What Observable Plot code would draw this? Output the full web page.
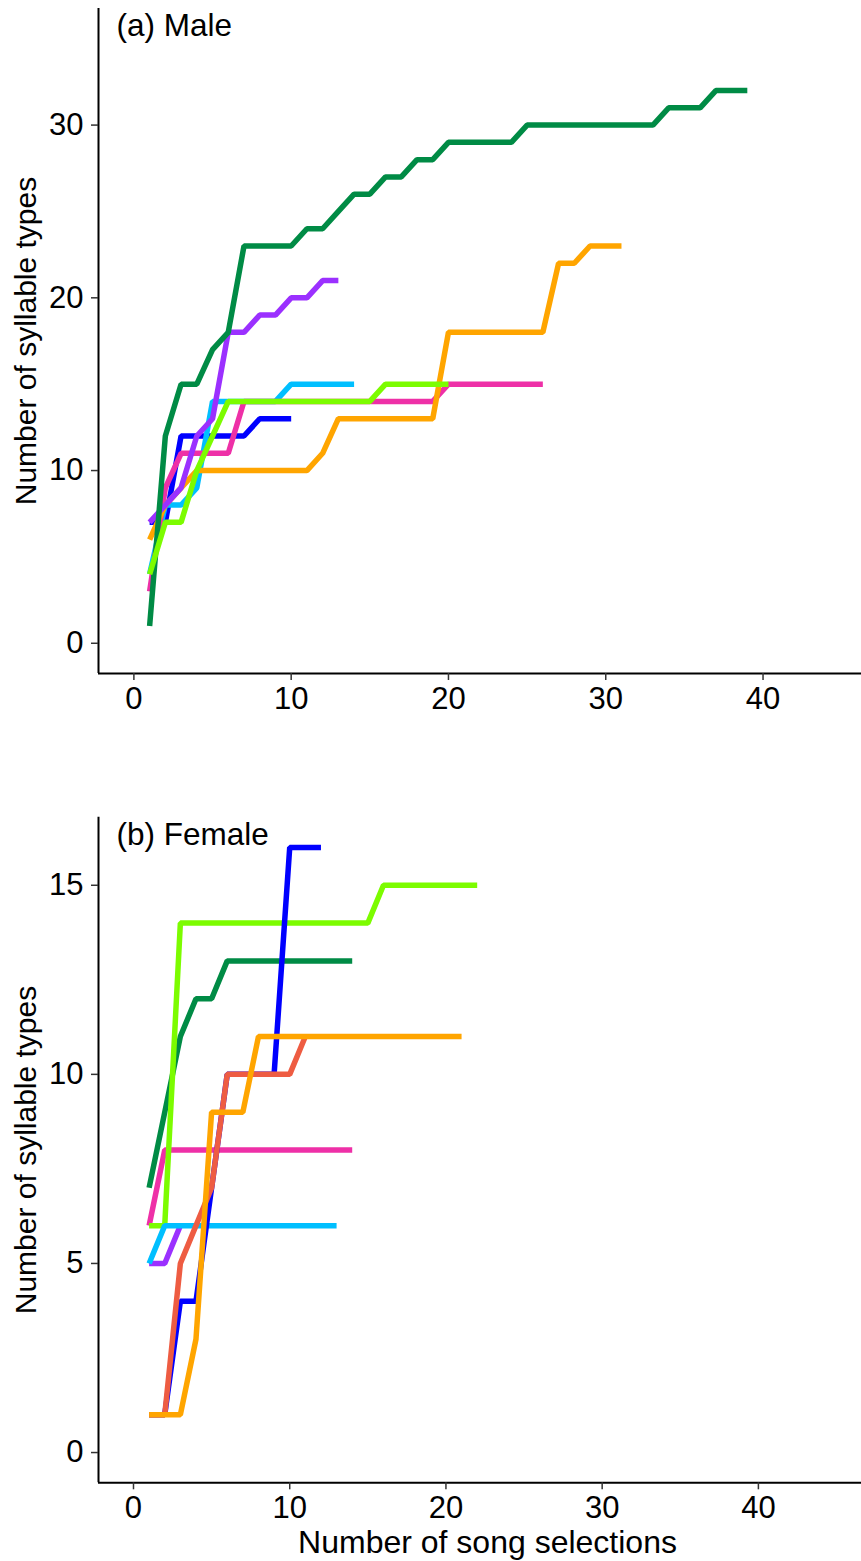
<!DOCTYPE html>
<html><head><meta charset="utf-8">
<script src="https://cdn.jsdelivr.net/npm/d3@7"></script>
<script src="https://cdn.jsdelivr.net/npm/@observablehq/plot@0.6"></script>
<style>
html,body{margin:0;padding:0;background:#fff;}
#chart svg{display:block;}
</style>
</head><body><div id="chart"></div>
<script>
// ---- Data: cumulative number of syllable types by song selection (x = 1..n) ----
// (a) Male
const maleBlue   = [7,7,12,12,12,12,12,13,13,13];
const maleCyan   = [4,8,8,9,14,14,14,14,14,15,15,15,15,15];
const malePink   = [3,9,11,11,11,11,14,14,14,14,14,14,14,14,14,14,14,14,14,15,15,15,15,15,15,15];
const maleOrange = [6,8,9,10,10,10,10,10,10,10,10,11,13,13,13,13,13,13,13,18,18,18,18,18,18,18,22,22,23,23,23];
const malePurple = [7,8,9,12,13,18,18,19,19,20,20,21,21];
const maleGreen  = [1,12,15,15,17,18,23,23,23,23,24,24,25,26,26,27,27,28,28,29,29,29,29,29,30,30,30,30,30,30,30,30,30,31,31,31,32,32,32];
const maleLime   = [4,7,7,10,12,14,14,14,14,14,14,14,14,14,14,15,15,15,15,15];
// (b) Female
const femPurple = [5,5,6];
const femPink   = [6,8,8,8,8,8,8,8,8,8,8,8,8,8];
const femGreen  = [7,9,11,12,12,13,13,13,13,13,13,13,13,13];
const femLime   = [6,6,14,14,14,14,14,14,14,14,14,14,14,14,14,15,15,15,15,15,15,15];
const femCyan   = [5,6,6,6,6,6,6,6,6,6,6,6,6];
const femBlue   = [1,1,4,4,7,10,10,10,10,16,16,16];
const femRed    = [1,1,5,6,7,10,10,10,10,10,11];
const femOrange = [1,1,1,3,9,9,9,11,11,11,11,11,11,11,11,11,11,11,11,11,11];

// tick labels
const maleYTicks = [0,10,20,30];
const femYTicks  = [0,5,10,15];
const xTicks     = [0,10,20,30,40];

// texts
const maleLabel = "(a) Male";
const femLabel  = "(b) Female";
const yTitle = "Number of syllable types";
const xTitle = "Number of song selections";

// colours
const colors = {
  blue: "#0000FF", cyan: "#00BFFF", pink: "#EE30A7", orange: "#FFA500",
  purple: "#9B30FF", green: "#008B45", lime: "#7CFC00", red: "#EE5C42"
};

const maleSeries = [
  ["blue", maleBlue], ["cyan", maleCyan], ["pink", malePink], ["orange", maleOrange],
  ["purple", malePurple], ["green", maleGreen], ["lime", maleLime]
];
const femSeries = [
  ["purple", femPurple], ["pink", femPink], ["green", femGreen], ["lime", femLime],
  ["cyan", femCyan], ["blue", femBlue], ["red", femRed], ["orange", femOrange]
];

const toRows = (vals) => vals.map((y, i) => ({x: i + 1, y}));

function panel({series, xDomain, yDomain, height, marginTop, marginBottom, yTicks, label, withXTitle}) {
  const marks = [
    Plot.ruleX([xDomain[0]], {stroke: "black", strokeWidth: 2}),
    Plot.ruleY([yDomain[0]], {stroke: "black", strokeWidth: 2}),
    Plot.axisY(yTicks, {tickSize: 7, tickPadding: 8, label: null, fontSize: 31, stroke: "#333", fill: "black", strokeWidth: 1.5}),
    Plot.axisX(xTicks, {tickSize: 7, tickPadding: 6, label: null, fontSize: 31, stroke: "#333", fill: "black", strokeWidth: 1.5}),
    ...series.map(([c, vals]) => Plot.line(toRows(vals), {
      x: "x", y: "y", stroke: colors[c], strokeWidth: 5.5,
      strokeLinecap: "butt", strokeLinejoin: "miter"
    })),
    Plot.text([label], {frameAnchor: "top-left", dx: 18, dy: 5, textAnchor: "start", lineAnchor: "top", fontSize: 31.5, fill: "black"}),
    Plot.text([yTitle], {frameAnchor: "left", dx: -72, rotate: -90, textAnchor: "middle", lineAnchor: "middle", fontSize: 30, fill: "black"})
  ];
  if (withXTitle) {
    marks.push(Plot.text([xTitle], {frameAnchor: "bottom", dx: 7.5, dy: 47, textAnchor: "middle", lineAnchor: "top", fontSize: 32, fill: "black"}));
  }
  return Plot.plot({
    width: 861, height,
    marginLeft: 98, marginRight: 0, marginTop, marginBottom,
    x: {domain: xDomain},
    y: {domain: yDomain},
    style: {fontFamily: "'Liberation Sans', Arial, sans-serif", background: "white", overflow: "visible"},
    marks
  });
}

const el = document.getElementById("chart");
el.appendChild(panel({
  series: maleSeries, xDomain: [-2.25, 46.26], yDomain: [-1.75, 36.75],
  height: 740, marginTop: 8, marginBottom: 67, yTicks: maleYTicks, label: maleLabel, withXTitle: false
}));
el.appendChild(panel({
  series: femSeries, xDomain: [-2.24, 46.6], yDomain: [-0.8, 16.8],
  height: 821, marginTop: 76.7, marginBottom: 78.7, yTicks: femYTicks, label: femLabel, withXTitle: true
}));
</script>
</body></html>
